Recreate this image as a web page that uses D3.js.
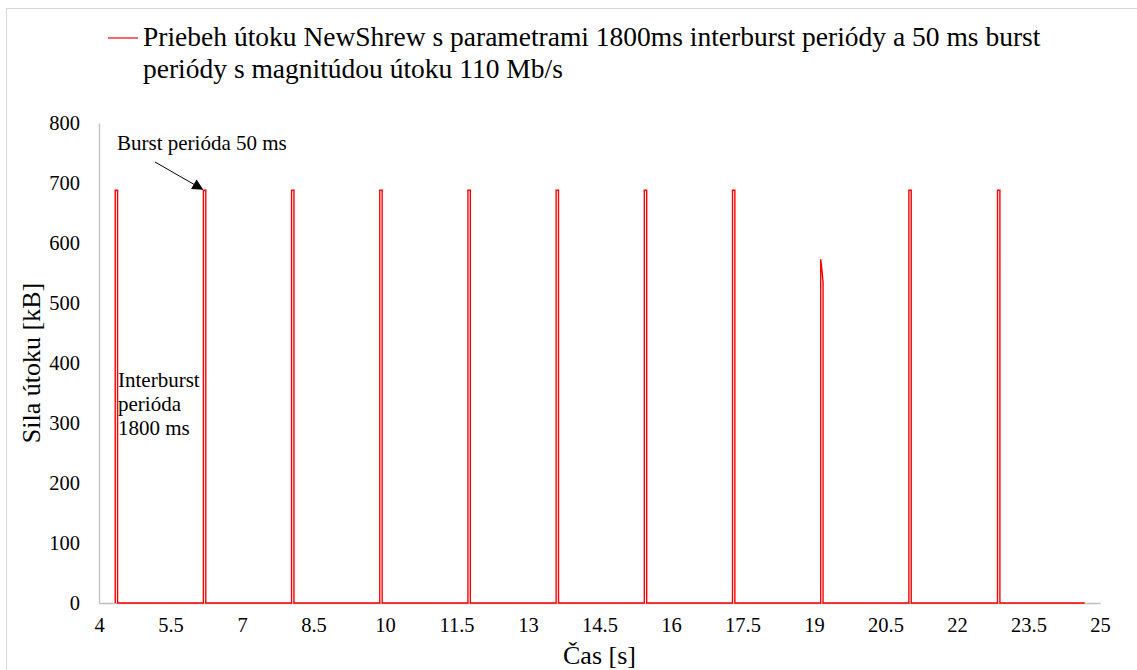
<!DOCTYPE html>
<html>
<head>
<meta charset="utf-8">
<script src="https://cdn.jsdelivr.net/npm/d3@7"></script>
<style>
  html, body { margin: 0; padding: 0; background: #fff; }
  svg { display: block; }
  svg text { font-family: 'Liberation Serif', 'Tinos', 'Times New Roman', 'DejaVu Serif', serif; fill: #000; }
</style>
</head>
<body>
<svg id="chart" width="1137" height="670"></svg>
<script>
// ---- Data ----
const titleLines = [
  "Priebeh útoku NewShrew s parametrami 1800ms interburst periódy a 50 ms burst",
  "periódy s magnitúdou útoku 110 Mb/s"
];
const timeS = [
  4.34, 4.34, 4.39, 4.39,
  6.19, 6.19, 6.24, 6.24,
  8.04, 8.04, 8.09, 8.09,
  9.89, 9.89, 9.94, 9.94,
  11.74, 11.74, 11.79, 11.79,
  13.59, 13.59, 13.64, 13.64,
  15.44, 15.44, 15.49, 15.49,
  17.29, 17.29, 17.34, 17.34,
  19.14, 19.14, 19.165, 19.19, 19.19,
  20.99, 20.99, 21.04, 21.04,
  22.85, 22.85, 22.90, 22.90,
  24.68
];
const attackKB = [
  0, 688, 688, 0,
  0, 688, 688, 0,
  0, 688, 688, 0,
  0, 688, 688, 0,
  0, 688, 688, 0,
  0, 688, 688, 0,
  0, 688, 688, 0,
  0, 688, 688, 0,
  0, 573, 556, 535, 0,
  0, 688, 688, 0,
  0, 688, 688, 0,
  0
];
const xTicks = [4, 5.5, 7, 8.5, 10, 11.5, 13, 14.5, 16, 17.5, 19, 20.5, 22, 23.5, 25];
const yTicks = [0, 100, 200, 300, 400, 500, 600, 700, 800];
const xLabel = "Čas [s]";
const yLabel = "Sila útoku [kB]";
const burstNote = "Burst perióda 50 ms";
const burstNoteTarget = [6.19, 688];
const interburstNote = ["Interburst", "perióda", "1800 ms"];

// ---- Layout ----
const svg = d3.select("#chart");
const mLeft = 99, mRight = 1100, mTop = 123, mBottom = 603;
const FONT = "'Liberation Serif', 'Tinos', 'Times New Roman', 'DejaVu Serif', serif";

const x = d3.scaleLinear().domain([4, 25]).range([mLeft, mRight]);
const y = d3.scaleLinear().domain([0, 800]).range([mBottom, mTop]);

// outer border (left & top visible)
svg.append("path")
  .attr("d", "M6.5,670 L6.5,8.5 L1137,8.5")
  .attr("fill", "none").attr("stroke", "#d9d9d9").attr("stroke-width", 1);

// defs arrow
svg.append("defs").append("marker")
  .attr("id", "arrow").attr("viewBox", "0 0 10 10")
  .attr("refX", 9).attr("refY", 5)
  .attr("markerWidth", 12).attr("markerHeight", 11)
  .attr("markerUnits", "userSpaceOnUse")
  .attr("orient", "auto-start-reverse")
  .append("path").attr("d", "M0,0 L10,5 L0,10 z").attr("fill", "#000");

// axes
const xAxis = d3.axisBottom(x).tickValues(xTicks).tickSize(0).tickPadding(14)
  .tickFormat(d => String(d));
const gx = svg.append("g").attr("transform", `translate(0,${mBottom})`).call(xAxis)
  .attr("font-family", FONT).attr("font-size", 20.5);
gx.select(".domain").attr("stroke", "#bfbfbf").attr("stroke-width", 1.3);
gx.selectAll("text").attr("fill", "#000");

const yAxis = d3.axisLeft(y).tickValues(yTicks).tickSize(0).tickPadding(19)
  .tickFormat(d => String(d));
const gy = svg.append("g").attr("transform", `translate(${mLeft},0)`).call(yAxis)
  .attr("font-family", FONT).attr("font-size", 20.5);
gy.select(".domain").attr("stroke", "#bfbfbf").attr("stroke-width", 1.3);
gy.selectAll("text").attr("fill", "#000");

// axis titles
svg.append("text")
  .attr("x", (mLeft + mRight) / 2).attr("y", 664)
  .attr("text-anchor", "middle").attr("font-family", FONT).attr("font-size", 26)
  .text(xLabel);
svg.append("text")
  .attr("transform", `translate(40,${(mTop + mBottom) / 2}) rotate(-90)`)
  .attr("text-anchor", "middle").attr("font-family", FONT).attr("font-size", 26)
  .text(yLabel);

// series line
const pts = timeS.map((t, i) => [t, attackKB[i]]);
svg.append("path")
  .datum(pts)
  .attr("fill", "none")
  .attr("stroke", "#ff0000")
  .attr("stroke-width", 1.4)
  .attr("stroke-linejoin", "miter")
  .attr("d", d3.line().x(d => x(d[0])).y(d => y(d[1])));

// legend / title
svg.append("line")
  .attr("x1", 108).attr("x2", 138).attr("y1", 38).attr("y2", 38)
  .attr("stroke", "#ff0000").attr("stroke-width", 1.2);
const tt = svg.append("text").attr("x", 143).attr("y", 46)
  .attr("font-family", FONT).attr("font-size", 27.5);
titleLines.forEach((l, i) => {
  tt.append("tspan").attr("x", 143).attr("dy", i === 0 ? 0 : 32).text(l);
});

// annotations
svg.append("text")
  .attr("x", 117).attr("y", 150).attr("font-family", FONT).attr("font-size", 21)
  .text(burstNote);
svg.append("line")
  .attr("x1", 155).attr("y1", 162)
  .attr("x2", x(burstNoteTarget[0]) - 1).attr("y2", y(burstNoteTarget[1]) - 1)
  .attr("stroke", "#000").attr("stroke-width", 1)
  .attr("marker-end", "url(#arrow)");

const it = svg.append("text").attr("x", 118).attr("y", 387)
  .attr("font-family", FONT).attr("font-size", 21);
interburstNote.forEach((l, i) => {
  it.append("tspan").attr("x", 118).attr("dy", i === 0 ? 0 : 24).text(l);
});
</script>
</body>
</html>
